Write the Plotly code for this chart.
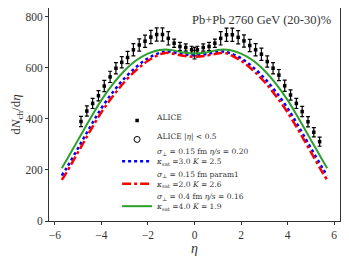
import plotly.graph_objects as go

# ALICE data (20-30%)
alice_eta = [-4.875, -4.625, -4.375, -4.125, -3.875, -3.625, -3.375, -3.125, -2.875, -2.625,
             -2.375, -2.125, -1.875, -1.625, -1.375, -1.125, -0.875, -0.625, -0.375, -0.125,
             0.125, 0.375, 0.625, 0.875, 1.125, 1.375, 1.625, 1.875, 2.125, 2.375,
             2.625, 2.875, 3.125, 3.375, 3.625, 3.875, 4.125, 4.375, 4.625, 4.875,
             5.125, 5.375]
alice_val = [390, 431, 461, 491, 529, 565, 599, 622, 641, 671,
             690, 705, 721, 731, 731, 716, 697, 684, 680, 671,
             671, 680, 684, 697, 716, 730, 730, 720, 706, 688,
             671, 654, 625, 599, 572, 530, 494, 461, 429, 389,
             348, 311]
alice_err = [20, 20, 20, 20, 22, 22, 22, 22, 24, 24,
             24, 24, 26, 26, 26, 26, 16, 16, 14, 14,
             14, 14, 16, 16, 26, 26, 26, 26, 24, 24,
             24, 24, 22, 22, 22, 22, 20, 20, 20, 20,
             18, 18]

mid_eta = [0.0]
mid_val = [658]
mid_err = [23]

# Model curves
model_eta = [-5.7, -5.5, -5.0, -4.5, -4.0, -3.5, -3.0, -2.5, -2.0, -1.5, -1.25, -1.0, -0.5, 0.0,
             0.5, 1.0, 1.25, 1.5, 2.0, 2.5, 3.0, 3.5, 4.0, 4.5, 5.0, 5.5, 5.7]
green_val = [207, 238, 318, 398, 474, 538, 590, 630, 656, 670, 672, 670, 661, 657,
             661, 670, 672, 670, 656, 630, 590, 538, 474, 398, 318, 238, 207]
blue_val = [178, 207, 286, 366, 442, 506, 560, 604, 638, 659, 664, 663, 654, 650,
            654, 663, 664, 659, 638, 604, 560, 506, 442, 366, 286, 207, 178]
red_val = [161, 190, 270, 350, 426, 490, 546, 592, 628, 653, 659, 657, 648, 644,
           648, 657, 659, 653, 628, 592, 546, 490, 426, 350, 270, 190, 161]

x_ticks = [-6, -4, -2, 0, 2, 4, 6]
y_ticks = [0, 200, 400, 600, 800]

label_blue = "<i>σ</i><sub>⊥</sub> = 0.15 fm <i>η/s</i> = 0.20<br><i>κ</i><sub>sat</sub> =3.0 <i>K</i> = 2.5"
label_red = "<i>σ</i><sub>⊥</sub> = 0.15 fm param1<br><i>κ</i><sub>sat</sub> =2.0 <i>K</i> = 2.6"
label_green = "<i>σ</i><sub>⊥</sub> = 0.4 fm <i>η/s</i> = 0.16<br><i>κ</i><sub>sat</sub> =4.0 <i>K</i> = 1.9"

FONT = "Liberation Serif"
LFONT = "DejaVu Serif"

fig = go.Figure()
fig.add_trace(go.Scatter(
    x=alice_eta, y=alice_val, mode="markers", name="ALICE",
    marker=dict(symbol="square", size=3.5, color="black"),
    error_y=dict(type="data", array=alice_err, color="black", thickness=1.2, width=2),
    legend="legend",
))
fig.add_trace(go.Scatter(
    x=mid_eta, y=mid_val, mode="markers", name="ALICE |<i>η</i>| < 0.5",
    marker=dict(symbol="circle-open", size=6, color="black", line=dict(width=1)),
    error_y=dict(type="data", array=mid_err, color="black", thickness=1.2, width=2),
    legend="legend",
))
fig.add_trace(go.Scatter(
    x=model_eta, y=blue_val, mode="lines", name=label_blue,
    line=dict(color="blue", width=2.5, dash="dot", shape="spline"),
    legend="legend2",
))
fig.add_trace(go.Scatter(
    x=model_eta, y=red_val, mode="lines", name=label_red,
    line=dict(color="red", width=2.5, dash="dashdot", shape="spline"),
    legend="legend2",
))
fig.add_trace(go.Scatter(
    x=model_eta, y=green_val, mode="lines", name=label_green,
    line=dict(color="#2ca02c", width=2, shape="spline"),
    legend="legend2",
))

fig.add_annotation(
    text="Pb+Pb 2760 GeV (20-30)%", xref="paper", yref="paper",
    x=0.975, y=0.985, xanchor="right", yanchor="top", showarrow=False,
    font=dict(family=FONT, size=12.5, color="#333"),
)

axis_common = dict(
    showline=True, linecolor="#333", linewidth=1, mirror=True, automargin=False,
    ticks="outside", ticklen=3, tickcolor="#333", showgrid=False, zeroline=False,
    tickfont=dict(family=FONT, size=11.5, color="#333"),
)

legend_common = dict(
    xanchor="left", yanchor="top",
    bgcolor="rgba(0,0,0,0)", borderwidth=0,
    font=dict(family=LFONT, size=7.5, color="#333"),
    valign="bottom", tracegroupgap=0, itemwidth=30,
)

# The page body has an 8px margin, so the figure is sized to compensate.
fig.update_layout(
    width=341, height=254,
    margin=dict(l=41, r=9, t=0, b=41),
    paper_bgcolor="white", plot_bgcolor="white",
    showlegend=True,
    legend=dict(x=0.234, y=0.555, **legend_common),
    legend2=dict(x=0.234, y=0.38, **legend_common),
    xaxis=dict(range=[-6.25, 6.25], tickvals=x_ticks,
               title=dict(text="<i>η</i>", font=dict(family=FONT, size=14, color="#333"), standoff=2),
               **axis_common),
    yaxis=dict(range=[0, 835], tickvals=y_ticks,
               title=dict(text="d<i>N</i><sub>ch</sub>/d<i>η</i>", font=dict(family=FONT, size=13, color="#333"), standoff=4),
               **axis_common),
)

fig.write_html("out.html")
